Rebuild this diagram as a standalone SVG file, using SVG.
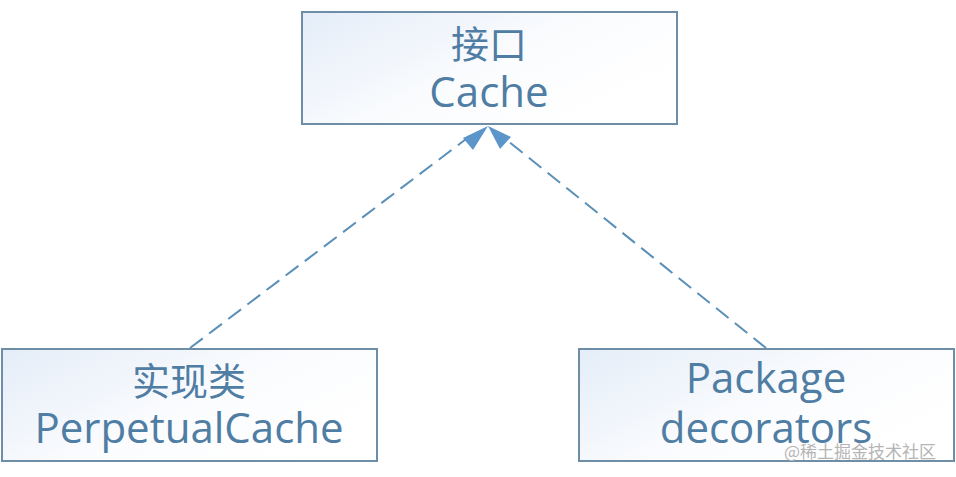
<svg xmlns="http://www.w3.org/2000/svg" width="956" height="477" viewBox="0 0 956 477">
<defs>
<linearGradient id="g" x1="0" y1="0" x2="1" y2="0.6">
<stop offset="0" stop-color="#e4edf8"/>
<stop offset="0.6" stop-color="#fbfcfe"/>
<stop offset="1" stop-color="#ffffff"/>
</linearGradient>
<style>
.box{fill:url(#g);stroke:#6e8ea8;stroke-width:2}
.t{font-family:"Open Sans","Noto Sans CJK SC",sans-serif;fill:#4f7da3;text-anchor:middle}
.c{stroke:#5a8fb8;stroke-width:2;stroke-dasharray:16,8;fill:none}
.ah{fill:#5b95c9}
</style>
</defs>
<rect width="956" height="477" fill="#ffffff"/>
<g id="connectors">
<line class="c" x1="190" y1="348" x2="474" y2="133"/>
<path class="ah" d="M488,126 L463,138 L473,150 z"/>
<line class="c" x1="766" y1="348" x2="498" y2="133"/>
<path class="ah" d="M488,126 L500,149 L511,137 z"/>
</g>
<g id="node-cache">
<rect class="box" x="302" y="12" width="375" height="112"/>
<text class="t" x="489" y="58" font-size="38">接口</text>
<text class="t" x="489" y="107" font-size="42">Cache</text>
</g>
<g id="node-perpetual">
<rect class="box" x="2" y="349" width="375" height="112"/>
<text class="t" x="189" y="395" font-size="38">实现类</text>
<text class="t" x="189" y="443" font-size="42">PerpetualCache</text>
</g>
<g id="node-decorators">
<rect class="box" x="579" y="349" width="375" height="112"/>
<text class="t" x="766" y="393" font-size="42">Package</text>
<text class="t" x="766" y="443" font-size="42">decorators</text>
</g>
<text x="860" y="458" font-family="Noto Sans CJK SC,sans-serif" font-size="17" fill="#b5b5b5" text-anchor="middle">@稀土掘金技术社区</text>
</svg>
